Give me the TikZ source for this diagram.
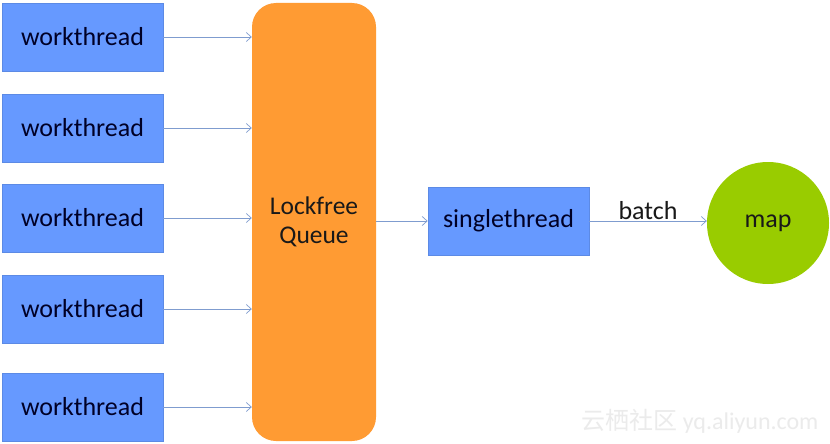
\documentclass[tikz,border=0pt]{standalone}
\usepackage{fontspec}
\setmainfont{Carlito}
\newfontfamily\cjkfont{Noto Sans CJK SC}
\usetikzlibrary{arrows.meta,positioning}
\definecolor{threadblue}{HTML}{6699FF}
\definecolor{queueorange}{HTML}{FF9B33}
\definecolor{mapgreen}{HTML}{99CC00}
\definecolor{linkblue}{HTML}{7F9CCF}
\definecolor{markgray}{HTML}{EBEBEB}
\tikzset{thread/.style={rectangle,draw=threadblue!90!black,fill=threadblue,line width=.6pt,
 minimum width=161pt,minimum height=68pt,inner sep=1pt,text=black!85!blue,font=\fontsize{26}{28}\selectfont},
 queue/.style={rectangle,rounded corners=24pt,fill=queueorange,minimum width=124pt,
 minimum height=438pt,align=center,text=black!90,font=\fontsize{25.5}{29}\selectfont},
 store/.style={circle,fill=mapgreen,minimum size=122pt,inner sep=0pt,text=black!90,
 font=\fontsize{26}{28}\selectfont},
 link/.style={draw=linkblue,line width=.7pt,-{Straight Barb[length=5pt,width=9pt]}},
 note/.style={text=black!90,font=\fontsize{26}{28}\selectfont}}
\begin{document}
\begin{tikzpicture}[x=1pt,y=-1pt]
 \useasboundingbox[fill=white] (0,0) rectangle (830,444);
 \node[queue] (lfq) at (314,222) {Lockfree\\Queue};
 \foreach \i/\y in {1/37,2/128,3/218,4/309,5/407}{
  \node[thread] (wt\i) at (82.5,\y) {workthread};
  \draw[link] (wt\i.east) -- (lfq.west |- wt\i.east);
 }
 \node[thread] (st) at (508.5,221) {singlethread};
 \node[store] (map) at (768,223) {map};
 \draw[link] (lfq.east |- st.west) -- (st.west);
 \draw[link] (st.east) -- node[note,above,yshift=-2pt] (bt) {batch} (map.west |- st.east);
 % watermark
 \node[text=markgray,font=\fontsize{24}{26}\selectfont,anchor=east] (wm) at (822,421)
  {{\cjkfont 云栖社区} yq.aliyun.com};
\end{tikzpicture}
\end{document}
